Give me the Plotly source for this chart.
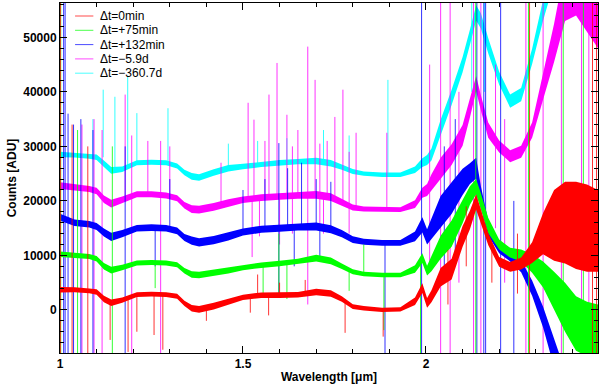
import plotly.graph_objects as go

# wavelength grid [micron] shared by all spectra
wl = [1.000, 1.040, 1.080, 1.100, 1.120, 1.140, 1.170, 1.210, 1.250, 1.290,
      1.320, 1.340, 1.360, 1.380, 1.420, 1.460, 1.500, 1.550, 1.600, 1.650,
      1.700, 1.740, 1.770, 1.800, 1.830, 1.880, 1.930, 1.970, 1.990, 2.003,
      2.015, 2.040, 2.070, 2.100, 2.120, 2.137, 2.150, 2.170, 2.200, 2.230,
      2.260, 2.290, 2.320, 2.350, 2.380, 2.410, 2.440, 2.470]

# spectrum level (counts) and noise half-width for each epoch
red = [3700, 3700, 3500, 3300, 2000, 1300, 1800, 2800, 2900, 2800,
       2500, 1200, 300, 100, 700, 1500, 2300, 2700, 2700, 2800,
       3300, 3000, 2000, 600, 300, 0, 100, 1600, 4000, 1300,
       2500, 6000, 7500, 13500, 16500, 19800, 17000, 13000, 8800, 7900,
       8500, 10500, 14000, 15500, 16000, 15500, 15000, 14500]
red_noise = [500, 450, 450, 500, 600, 600, 500, 450, 450, 450,
             450, 500, 600, 600, 600, 600, 500, 500, 500, 500,
             600, 600, 500, 450, 400, 400, 400, 700, 900, 900,
             1100, 1700, 1900, 1900, 1700, 1400, 1400, 1100, 900, 900,
             1100, 1900, 3800, 6500, 7500, 8000, 8000, 7500]

green = [10200, 10000, 9800, 9400, 8000, 7300, 7800, 8600, 8700, 8600,
         8300, 7200, 6500, 6400, 6800, 7300, 7800, 8200, 8500, 8900,
         9500, 9000, 8000, 7000, 6600, 6400, 6400, 7500, 9500, 7200,
         8500, 11500, 14000, 18000, 21000, 22600, 20000, 15500, 12000, 10500,
         10000, 8500, 6500, 3500, 500, -2500, -3500, -4000]
green_noise = [500, 450, 450, 500, 600, 600, 500, 450, 450, 450,
               450, 500, 600, 600, 600, 600, 500, 500, 500, 500,
               600, 600, 500, 450, 400, 400, 400, 700, 900, 900,
               1400, 2100, 2400, 2100, 1700, 1400, 1400, 1400, 900, 900,
               1100, 1700, 2400, 3500, 4500, 5000, 5000, 5000]

blue = [17000, 16000, 15700, 15300, 14200, 13400, 14000, 15000, 15100, 15000,
        14500, 13300, 12700, 12400, 12800, 13500, 14300, 14800, 15000, 15200,
        15300, 14800, 14000, 12900, 12500, 12300, 12300, 13500, 15600, 13400,
        15000, 18000, 20500, 23500, 25000, 26000, 21000, 15000, 11500, 9800,
        8000, 4000, -1300, -8000, -14000, -20000, -25000, -30000]
blue_noise = [650, 600, 600, 650, 750, 750, 650, 600, 600, 600,
              600, 650, 750, 750, 750, 750, 650, 650, 650, 650,
              750, 750, 650, 600, 550, 550, 550, 900, 1400, 1400,
              1900, 2900, 2900, 2400, 1900, 1900, 1700, 1400, 1100, 900,
              1100, 1400, 1900, 2500, 3000, 3000, 3000, 3000]

magenta = [22800, 22500, 22200, 21800, 20300, 19500, 20200, 21200, 21200, 21000,
           20500, 19200, 18500, 18400, 18900, 19600, 20200, 20600, 20800, 21000,
           21100, 20700, 19800, 18800, 18500, 18400, 18400, 19400, 21500, 22000,
           23500, 26000, 28500, 32000, 37000, 41500, 38000, 33000, 30000, 28200,
           29000, 33000, 41000, 49000, 58000, 60000, 57000, 54000]
magenta_noise = [600, 550, 550, 600, 700, 700, 600, 550, 550, 550,
                 550, 600, 700, 700, 700, 700, 600, 600, 600, 600,
                 700, 700, 600, 550, 450, 450, 450, 700, 900, 1100,
                 1400, 1900, 1900, 1900, 1700, 1400, 1400, 1400, 1100, 1100,
                 1100, 1400, 2400, 3500, 5000, 6000, 6000, 6000]

cyan = [28500, 28400, 28200, 28000, 26800, 25600, 25800, 27000, 27100, 27000,
        26400, 25200, 24500, 24300, 25200, 26000, 26300, 26700, 27000, 27200,
        27300, 26900, 26200, 25400, 25000, 24800, 24800, 25700, 27000, 27500,
        28500, 33500, 39000, 45000, 50000, 54500, 53000, 48500, 42500, 38300,
        39500, 46500, 55000, 62000, 68000, 70000, 70000, 70000]
cyan_noise = [500, 450, 450, 500, 600, 600, 500, 450, 450, 450,
              450, 500, 600, 600, 600, 600, 500, 500, 500, 500,
              600, 600, 500, 450, 400, 400, 400, 600, 800, 900,
              1100, 1400, 1400, 1400, 1400, 1400, 1400, 1400, 1200, 1200,
              1200, 1400, 1900, 2000, 2000, 2000, 2000, 2000]

# cosmic rays / bad columns: (wavelength, low counts, high counts)
red_spikes = [(1.001, -9000, 60000), (1.033, -9000, 34000), (1.076, -9000, 30000),
              (1.137, -5500, 1300), (1.186, -7700, 2000), (1.210, -4000, 2800),
              (1.257, -4600, 2900), (1.281, -7300, 2800), (1.400, -2000, 500),
              (1.520, -500, 2300), (1.540, 2500, 6500), (1.570, -1000, 2700),
              (1.600, 2700, 5000), (1.670, 2800, 5500), (1.779, -4200, 2000),
              (1.883, -4900, 0), (2.060, 1000, 11000), (2.110, 8000, 19000),
              (2.180, 5000, 12000), (2.250, 3000, 14000),
              (2.283, -9000, 60000), (2.455, -9000, 60000), (2.466, -9000, 60000)]
green_spikes = [(1.002, -9000, 60000), (1.048, -9000, 33000), (1.143, -9000, 30000),
                (1.260, 4000, 8700), (1.555, 3000, 8200), (1.598, 3100, 14000),
                (1.620, 2000, 8500), (1.790, 3500, 7500), (1.830, 6600, 12000),
                (1.885, -3700, 6400), (1.985, -9000, 9000), (2.136, -9000, 60000),
                (2.280, -9000, 60000), (2.375, -9000, 60000), (2.430, -9000, 60000)]
blue_spikes = [(1.010, -9000, 60000), (1.014, -9000, 60000), (1.022, -9000, 36000),
               (1.037, -9000, 34000), (1.057, -9000, 35000), (1.090, -9000, 33000),
               (1.178, -9000, 30000), (1.260, 8000, 15000), (1.300, 15000, 24000),
               (1.500, 14300, 22000), (1.560, 14800, 24000), (1.598, 3100, 30600),
               (1.622, 15000, 26000), (1.640, 8000, 15200), (1.660, 15200, 27000),
               (1.700, 15300, 24000), (1.710, 9000, 15300), (1.740, 14800, 23500),
               (1.888, -9000, 12300), (1.988, -9000, 60000), (2.050, 8000, 30000),
               (2.080, 9000, 35000), (2.139, -9000, 60000), (2.158, -9000, 60000),
               (2.163, -9000, 60000), (2.204, -9000, 60000), (2.240, -9000, 20000)]
magenta_spikes = [(1.060, -9000, 34000), (1.093, -9000, 35000), (1.115, -9000, 33000),
                  (1.178, 20000, 39500), (1.196, -9000, 32000), (1.240, 21000, 31000),
                  (1.275, -9000, 31000), (1.300, 21000, 30000), (1.440, 19000, 27000),
                  (1.514, 20300, 38000), (1.525, 9700, 20300), (1.530, 20400, 34900),
                  (1.545, 13500, 20500), (1.560, 20600, 31000), (1.571, 20700, 39500),
                  (1.593, 20800, 45300), (1.600, 12000, 20800), (1.620, 20800, 35800),
                  (1.635, 14000, 30000), (1.650, 21000, 33000), (1.677, 1000, 48300),
                  (1.697, 21000, 42200), (1.710, 15000, 30500), (1.720, 14000, 21000),
                  (1.730, 20800, 31000), (1.751, 20600, 35400), (1.773, 19800, 40400),
                  (1.790, 14000, 29000), (1.809, 18700, 32500), (1.893, 18400, 32500),
                  (2.010, 8000, 45000), (2.040, -9000, 60000), (2.066, -9000, 60000),
                  (2.090, 5000, 40000), (2.130, -9000, 60000), (2.150, -9000, 60000),
                  (2.190, 15000, 45000), (2.215, 5000, 35000), (2.273, -9000, 60000),
                  (2.320, -9000, 60000), (2.370, -9000, 60000), (2.425, -9000, 60000),
                  (2.445, -9000, 60000)]
cyan_spikes = [(1.090, 28000, 35000), (1.118, 28000, 40400), (1.150, 26000, 39100),
               (1.185, 26000, 42800), (1.210, 27000, 36100), (1.295, 27000, 37000),
               (1.460, 26000, 30500), (1.540, 26500, 31000), (1.620, 27000, 31500),
               (1.720, 27200, 33000), (1.790, 25500, 32000), (1.896, 25000, 42200),
               (2.125, 40000, 60000), (2.160, 40000, 60000)]

labels = ['Δt=0min', 'Δt=+75min', 'Δt=+132min', 'Δt=−5.9d', 'Δt=−360.7d']
colors = ['#ff0000', '#00ff00', '#0000ff', '#ff00ff', '#00ffff']
fluxes = [red, green, blue, magenta, cyan]
noises = [red_noise, green_noise, blue_noise, magenta_noise, cyan_noise]
spike_sets = [red_spikes, green_spikes, blue_spikes, magenta_spikes, cyan_spikes]

fig = go.Figure()
# IDL-style overplot: last epoch first, Δt=0 on top
for i in reversed(range(len(labels))):
    col, flux, noise = colors[i], fluxes[i], noises[i]
    hi = [f + n for f, n in zip(flux, noise)]
    lo = [f - n for f, n in zip(flux, noise)]
    fig.add_trace(go.Scatter(x=wl + wl[::-1], y=hi + lo[::-1], fill='toself',
                             fillcolor=col, line=dict(width=0), mode='lines',
                             showlegend=False, hoverinfo='skip'))
    sx, sy = [], []
    for w, a, b in spike_sets[i]:
        sx += [w, w, None]
        sy += [a, b, None]
    fig.add_trace(go.Scatter(x=sx, y=sy, mode='lines', line=dict(color=col, width=1),
                             opacity=0.8, showlegend=False, hoverinfo='skip'))
    fig.add_trace(go.Scatter(x=wl, y=flux, mode='lines', name=labels[i],
                             line=dict(color=col, width=1), showlegend=False))

# hand-made legend, tighter than plotly's own
for i, (lab, col) in enumerate(zip(labels, colors)):
    yy = 1 - (13 + 14.3 * i) / 350
    fig.add_shape(type='line', xref='x domain', yref='y domain', x0=0.028, x1=0.062,
                  y0=yy, y1=yy, line=dict(color=col, width=1), opacity=0.7)
    fig.add_annotation(xref='x domain', yref='y domain', x=0.07, y=yy, text=lab,
                       showarrow=False, xanchor='left', yanchor='middle',
                       font=dict(family='Liberation Sans', size=12, color='black'))

font = dict(family='Liberation Sans', size=12, color='black', weight='bold')
axis = dict(showline=True, linecolor='black', linewidth=1, mirror='ticks',
            ticks='inside', ticklen=7, tickcolor='black', showgrid=False,
            zeroline=False, tickfont=font, automargin=False)
fig.update_xaxes(**axis, range=[1.0, 2.47], tick0=1, dtick=0.5,
                 minor=dict(dtick=0.1, ticks='inside', ticklen=4, tickcolor='black'),
                 title=dict(text='Wavelength [μm]', font=font, standoff=2))
fig.update_yaxes(**axis, range=[-7900, 56300], tick0=0, dtick=10000, tickformat='d',
                 minor=dict(dtick=2000, ticks='inside', ticklen=4, tickcolor='black'),
                 title=dict(text='Counts [ADU]', font=font, standoff=4))
fig.update_layout(width=600, height=384, margin=dict(l=60, r=2, t=3, b=31),
                  plot_bgcolor='white', paper_bgcolor='white', showlegend=False)
fig.write_html('out.html', config={'displayModeBar': False},
               post_script="document.body.style.margin='0';")
